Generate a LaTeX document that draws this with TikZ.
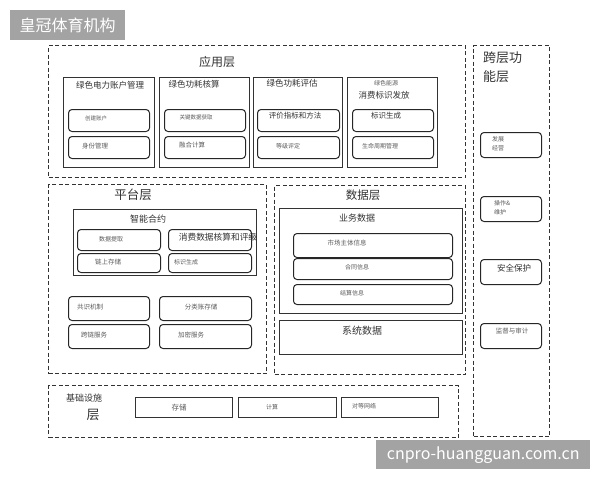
\documentclass[tikz,border=0pt]{standalone}
\usepackage{fontspec}
\setmainfont{Noto Sans CJK SC}
\usetikzlibrary{positioning}
\newcommand\fsz[1]{\fontsize{#1}{#1}\selectfont}
\definecolor{inkdark}{HTML}{333333}
\definecolor{inklight}{HTML}{5A5A5A}
\definecolor{tagfill}{HTML}{A3A3A3}
\tikzset{
  layer/.style = {draw=black!80, dash pattern=on 4pt off 2.5pt, line width=1.2pt, anchor=north west, inner sep=0pt},
  group/.style = {draw=black!80, line width=1.1pt, anchor=north west, inner sep=0pt},
  item/.style  = {draw=black!85, line width=1pt, rounded corners=3.5pt, anchor=north west, inner sep=0pt},
  title/.style = {text=inkdark, inner sep=0pt, font=\fsz{12}},
  head/.style  = {text=inkdark, inner sep=0pt, font=\fsz{8.5}},
  tag/.style   = {text=inklight, inner sep=0pt, font=\fsz{6}},
  wm/.style    = {fill=tagfill, text=white, inner sep=0pt, anchor=north west, font=\fsz{16}},
}

\begin{document}
\begin{tikzpicture}[x=1pt, y=-1pt]
    \useasboundingbox (0,0) rectangle (600,480);

    % Application layer
    \node[layer, minimum width=417pt, minimum height=132pt] (app) at (48,45) {};
    \node[title] (appT) at (217,62) {应用层};
    \node[group, minimum width=91pt, minimum height=90pt] (acct) at (63,77) {};
    \node[group, minimum width=90pt, minimum height=90pt] (calc) at (159,77) {};
    \node[group, minimum width=89pt, minimum height=90pt] (eval) at (253,77) {};
    \node[group, minimum width=90pt, minimum height=90pt] (mark) at (347,77) {};
    \node[head] (acctT) at (110,85) {绿色电力账户管理};
    \node[head] (calcT) at (194,84) {绿色功耗核算};
    \node[head] (evalT) at (292,83) {绿色功耗评估};
    \node[tag] (markS) at (386,83) {绿色能源};
    \node[head] (markT) at (384,95) {消费标识发放};
    \foreach \x/\w/\n in {68/81/acct, 164/81/calc, 257/82/eval, 352/81/mark} {
      \node[item, minimum width=\w pt, minimum height=22pt] (\n A) at (\x,109) {};
      \node[item, minimum width=\w pt, minimum height=22pt] (\n B) at (\x,136) {};
    }
    \node[tag, font=\fsz{5.5}] (open) at (96,118) {创建账户};
    \node[tag, font=\fsz{6.5}] (ident) at (95,146) {身份管理};
    \node[tag, font=\fsz{5.5}] (fetch) at (196,117) {关键数据获取};
    \node[tag, font=\fsz{6.5}] (fuse) at (192,145) {融合计算};
    \node[head, font=\fsz{7.5}] (metric) at (295,116) {评价指标和方法};
    \node[tag] (grade) at (288,146) {等级评定};
    \node[head, font=\fsz{7.5}] (gen) at (386,116) {标识生成};
    \node[tag] (life) at (380,146) {生命周期管理};

    % Cross-layer functions
    \node[layer, minimum width=76pt, minimum height=391pt] (cross) at (473,45) {};
    \node[title, font=\fsz{13}, anchor=west] (crossT) at (483,58) {跨层功};
    \node[title, font=\fsz{13}, anchor=west] (crossU) at (483,77) {能层};
    \foreach \y/\n in {132/dev, 196/ops, 259/sec, 323/aud}
      \node[item, minimum width=61pt, minimum height=25pt] (\n) at (480,\y) {};
    \node[tag, anchor=west] (devA) at (492,139) {发展};
    \node[tag, anchor=west] (devB) at (492,148) {经营};
    \node[tag, anchor=west] (opsA) at (494,203) {操作\&};
    \node[tag, anchor=west] (opsB) at (494,212) {维护};
    \node[head] (secT) at (514,268) {安全保护};
    \node[tag, font=\fsz{6.5}] (audT) at (512,331) {监督与审计};

    % Platform layer
    \node[layer, minimum width=218pt, minimum height=189pt] (plat) at (48,184) {};
    \node[title, font=\fsz{12.5}] (platT) at (133,195) {平台层};
    \node[group, minimum width=183pt, minimum height=66pt] (smart) at (73,209) {};
    \node[head, font=\fsz{9}] (smartT) at (148,219) {智能合约};
    \node[item, minimum width=83pt, minimum height=21pt] (extr) at (77,229) {};
    \node[item, minimum width=83pt, minimum height=21pt] (rate) at (168,229) {};
    \node[item, minimum width=83pt, minimum height=19pt] (chain) at (77,253) {};
    \node[item, minimum width=83pt, minimum height=19pt] (label) at (168,253) {};
    \node[tag] (extrT) at (111,239) {数据提取};
    \node[head, font=\fsz{8.7}] (rateT) at (218,237) {消费数据核算和评级};
    \node[tag, font=\fsz{6.5}] (chainT) at (108,262) {链上存储};
    \node[tag] (labelT) at (186,262) {标识生成};
    \node[item, minimum width=81pt, minimum height=24pt] (cons) at (68,296) {};
    \node[item, minimum width=92pt, minimum height=24pt] (ledg) at (159,296) {};
    \node[item, minimum width=81pt, minimum height=24pt] (xchn) at (68,324) {};
    \node[item, minimum width=92pt, minimum height=24pt] (cryp) at (159,324) {};
    \node[tag, font=\fsz{6.5}] (consT) at (90,307) {共识机制};
    \node[tag, font=\fsz{6.5}] (ledgT) at (201,307) {分类账存储};
    \node[tag, font=\fsz{6.5}] (xchnT) at (94,335) {跨链服务};
    \node[tag, font=\fsz{6.5}] (crypT) at (191,335) {加密服务};

    % Data layer
    \node[layer, minimum width=191pt, minimum height=189pt] (data) at (274,185) {};
    \node[title, font=\fsz{11.5}] (dataT) at (363,195) {数据层};
    \node[group, minimum width=183pt, minimum height=105pt] (biz) at (279,208) {};
    \node[head, font=\fsz{9}] (bizT) at (357,218) {业务数据};
    \node[item, minimum width=159pt, minimum height=24pt] (party) at (293,233) {};
    \node[item, minimum width=159pt, minimum height=21pt] (contr) at (293,258) {};
    \node[item, minimum width=159pt, minimum height=20pt] (settl) at (293,284) {};
    \node[tag, font=\fsz{6.5}] (partyT) at (347,243) {市场主体信息};
    \node[tag] (contrT) at (357,267) {合同信息};
    \node[tag] (settlT) at (352,293) {结算信息};
    \node[group, minimum width=183pt, minimum height=34pt] (sys) at (279,320) {};
    \node[head, font=\fsz{10}] (sysT) at (362,331) {系统数据};

    % Infrastructure layer
    \node[layer, minimum width=410pt, minimum height=52pt] (infra) at (48,385) {};
    \node[head, font=\fsz{9}] (infraT) at (84,398) {基础设施};
    \node[title, font=\fsz{13}] (infraU) at (93,415) {层};
    \node[group, minimum width=97pt, minimum height=20pt] (store) at (135,397) {};
    \node[group, minimum width=98pt, minimum height=20pt] (comp) at (238,397) {};
    \node[group, minimum width=97pt, minimum height=20pt] (p2p) at (341,397) {};
    \node[tag, font=\fsz{7.5}] (storeT) at (179,408) {存储};
    \node[tag] (compT) at (272,407) {计算};
    \node[tag] (p2pT) at (364,406) {对等网络};

    % Watermark tags
    \node[wm, minimum width=115pt, minimum height=30pt] (brand) at (10,10) {皇冠体育机构};
    \node[wm, minimum width=214pt, minimum height=29pt] (site) at (376,440) {cnpro-huangguan.com.cn};
\end{tikzpicture}
\end{document}
